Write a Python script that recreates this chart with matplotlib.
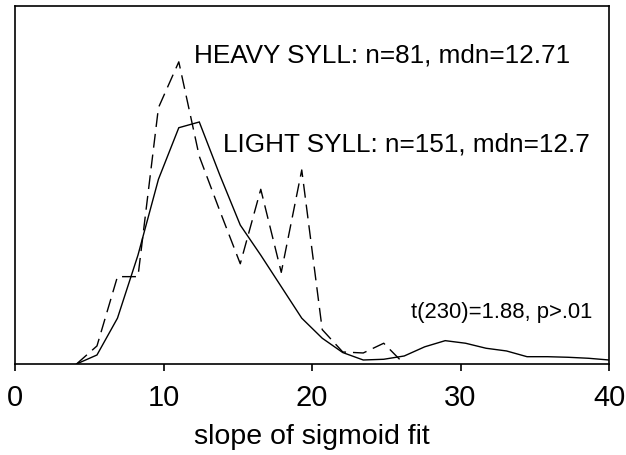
import matplotlib
matplotlib.use("Agg")
import matplotlib.pyplot as plt

plt.rcParams['font.family'] = ['Liberation Sans', 'DejaVu Sans']

# bin centres (slope of sigmoid fit)
x_light = [4.14, 5.52, 6.90, 8.28, 9.66, 11.03, 12.41, 13.79, 15.17, 16.55,
           17.93, 19.31, 20.69, 22.07, 23.45, 24.83, 26.21, 27.59, 28.97,
           30.34, 31.72, 33.10, 34.48, 35.86, 37.24, 38.62, 40.0]
light = [0.0, 0.63, 3.2, 7.6, 12.9, 16.5, 16.9, 13.2, 9.7, 7.6,
         5.4, 3.2, 1.8, 0.8, 0.28, 0.33, 0.56, 1.2, 1.63,
         1.45, 1.1, 0.91, 0.51, 0.51, 0.47, 0.4, 0.28]

x_heavy = [4.14, 5.52, 6.90, 8.28, 9.66, 11.03, 12.41, 13.79, 15.17, 16.55,
           17.93, 19.31, 20.69, 22.07, 23.45, 24.83, 26.21]
heavy = [0.0, 1.26, 6.1, 6.1, 17.9, 21.1, 14.5, 10.7, 7.0, 12.2,
         6.4, 13.55, 2.4, 0.84, 0.77, 1.45, 0.0]

xticks = [0, 10, 20, 30, 40]
heavy_label = "HEAVY SYLL: n=81, mdn=12.71"
light_label = "LIGHT SYLL: n=151, mdn=12.7"
stat_label = "t(230)=1.88, p>.01"
xlabel = "slope of sigmoid fit"

fig = plt.figure(figsize=(6.26, 4.56), dpi=100)
ax = fig.add_axes([15/626, 1 - 365/456, 594/626, 358/456])

ax.plot(x_light, light, color='black', lw=1.0, solid_joinstyle='miter')
ax.plot(x_heavy, heavy, color='black', lw=1.0, dashes=(10, 5))

ax.set_xlim(0, 40)
ax.set_ylim(0, 25)
ax.set_xticks(xticks)
ax.set_xticklabels([str(t) for t in xticks], fontsize=21)
ax.set_yticks([])
ax.tick_params(axis='x', direction='out', length=5, width=1.2, pad=9)
for s in ax.spines.values():
    s.set_linewidth(1.2)

ax.set_xlabel(xlabel, fontsize=20.5, labelpad=8.5)

ax.text(12.05, 21.1, heavy_label, fontsize=18.8, va='baseline', ha='left')
ax.text(14.03, 14.9, light_label, fontsize=18.8, va='baseline', ha='left')
ax.text(26.7, 3.26, stat_label, fontsize=15.8, va='baseline', ha='left')

fig.savefig("out.png", dpi=100)
